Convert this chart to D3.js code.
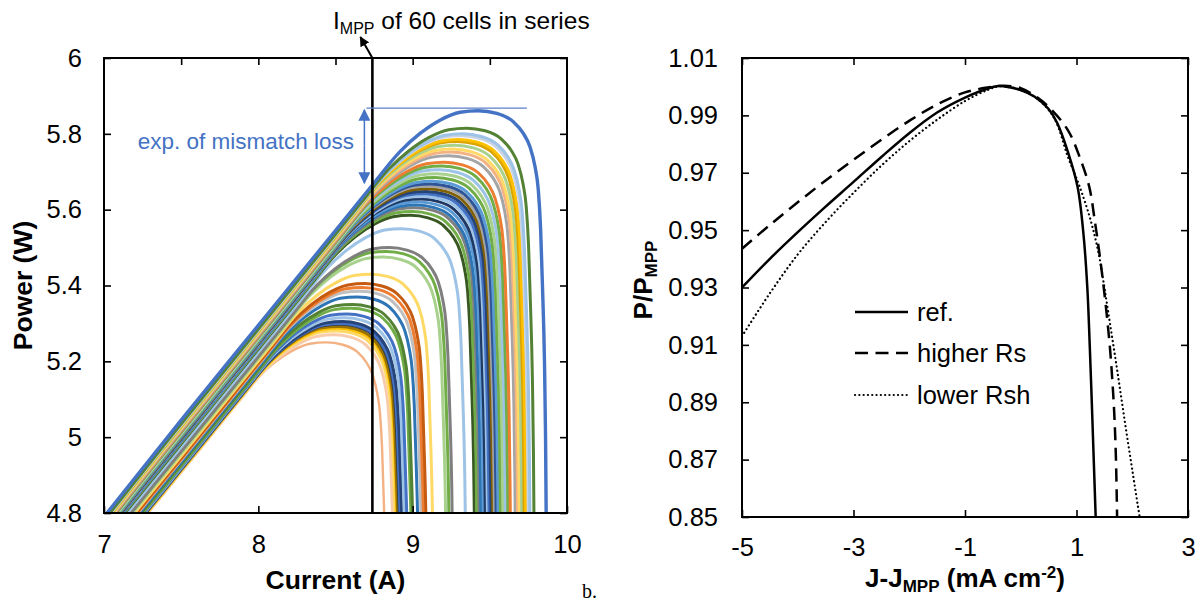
<!DOCTYPE html>
<html>
<head>
<meta charset="utf-8">
<script src="https://cdn.jsdelivr.net/npm/d3@7"></script>
<style>
  body { margin: 0; background: #fff; }
  text { font-family: "Liberation Sans", Arial, sans-serif; }
</style>
</head>
<body>
<svg id="chart" width="1197" height="606"></svg>
<script>
// ---------- left panel: P-I curves of single cells ----------
// shape of the top (highest) curve
var templateCurrent = [6.8, 7.0, 7.5, 8.0, 8.5, 8.739, 8.918, 9.048, 9.177, 9.307, 9.425, 9.545, 9.652, 9.717, 9.760, 9.793, 9.814, 9.829, 9.841, 9.854, 9.861, 9.865, 9.868];
var templatePower = [4.69, 4.79, 5.045, 5.295, 5.545, 5.665, 5.753, 5.801, 5.836, 5.857, 5.861, 5.854, 5.832, 5.801, 5.766, 5.713, 5.652, 5.55, 5.4, 5.2, 5.0, 4.8, 4.6];

// peak of every cell curve (current, power) and its colour
var cellPeakCurrent = [9.425, 9.350, 9.325, 9.315, 9.300, 9.290, 9.275, 9.260, 9.250, 9.235,
  9.205, 9.190, 9.175, 9.160, 9.145, 9.130, 9.118, 9.108, 9.098, 9.087,
  9.075, 9.065, 9.052, 9.040, 9.025, 9.015, 9.000, 8.985, 8.930, 8.850,
  8.830, 8.810, 8.730, 8.690, 8.675, 8.660, 8.640, 8.610, 8.600, 8.575,
  8.560, 8.545, 8.535, 8.530, 8.520, 8.515, 8.505, 8.490, 8.440];
var cellPeakPower = [5.861, 5.815, 5.800, 5.795, 5.785, 5.780, 5.770, 5.760, 5.752, 5.742,
  5.725, 5.715, 5.705, 5.695, 5.685, 5.675, 5.668, 5.662, 5.655, 5.648,
  5.642, 5.635, 5.628, 5.620, 5.612, 5.605, 5.595, 5.585, 5.550, 5.500,
  5.490, 5.475, 5.430, 5.405, 5.395, 5.385, 5.370, 5.350, 5.340, 5.325,
  5.315, 5.305, 5.300, 5.298, 5.292, 5.287, 5.280, 5.270, 5.250];
var cellColor = ["#4472C4", "#548235", "#9DC3E6", "#C9D3E3", "#FFC000", "#D9A400", "#A9D18E", "#FFD966", "#F4B183", "#A5A5A5",
  "#ED7D31", "#70AD47", "#9DC3E6", "#A9D18E", "#70AD47", "#5B9BD5", "#2F5597", "#A5A5A5", "#806000", "#264478",
  "#4472C4", "#9DC3E6", "#203864", "#5B9BD5", "#2E75B6", "#7F7F7F", "#70AD47", "#385723", "#9DC3E6", "#7F7F7F",
  "#70AD47", "#A9D18E", "#FFD966", "#C55A11", "#ED7D31", "#BFBFBF", "#2E75B6", "#548235", "#70AD47", "#4472C4",
  "#9DC3E6", "#264478", "#4472C4", "#3A3A3A", "#997300", "#FFC000", "#FFD966", "#F8CBAD", "#F4B183"];

var leftXTicks = [7, 8, 9, 10];
var leftTopTicks = [7.5, 8, 8.5, 9, 9.5];
var leftYTicks = [4.8, 5, 5.2, 5.4, 5.6, 5.8, 6];
var seriesMppCurrent = 8.739;
var mismatchTop = 5.868;
var mismatchBottom = 5.67;

// ---------- right panel: normalised power ----------
var refJ = [-5, -4.5, -4, -3.5, -3, -2.5, -2, -1.5, -1, -0.6, -0.4, -0.2, 0, 0.25, 0.5, 0.65, 0.85, 1.02, 1.125, 1.194, 1.24, 1.276, 1.31, 1.344, 1.36];
var refP = [0.930, 0.9400, 0.9493, 0.9582, 0.9668, 0.9755, 0.9838, 0.9910, 0.9962, 0.9993, 1.0002, 0.9998, 0.9988, 0.9965, 0.9922, 0.9875, 0.977, 0.965, 0.9486, 0.930, 0.9085, 0.889, 0.8695, 0.850, 0.840];
var rsJ = [-5, -4.5, -4, -3.5, -3, -2.5, -2, -1.5, -1, -0.6, -0.3, 0, 0.24, 0.51, 0.85, 1.06, 1.23, 1.33, 1.40, 1.47, 1.54, 1.60, 1.645, 1.68, 1.705, 1.722, 1.732];
var rsP = [0.9435, 0.9518, 0.9597, 0.9673, 0.9745, 0.9815, 0.9881, 0.9938, 0.998, 0.9997, 1.0003, 0.9995, 0.997, 0.9928, 0.9847, 0.9753, 0.965, 0.953, 0.9435, 0.933, 0.921, 0.909, 0.897, 0.885, 0.872, 0.857, 0.845];
var rshJ = [-5, -4.5, -4, -3.5, -3, -2.5, -2, -1.5, -1, -0.6, -0.4, -0.2, 0, 0.3, 0.6, 0.85, 1.06, 1.26, 1.40, 1.50, 1.60, 1.70, 1.80, 1.90, 2.00, 2.10, 2.15];
var rshP = [0.913, 0.928, 0.9415, 0.9528, 0.963, 0.9725, 0.981, 0.9885, 0.9950, 0.9988, 1.0001, 0.9998, 0.9988, 0.9958, 0.989, 0.9753, 0.965, 0.953, 0.9416, 0.930, 0.9175, 0.905, 0.892, 0.879, 0.8665, 0.854, 0.848];

var rightXTicks = [-5, -3, -1, 1, 3];
var rightYTicks = [0.85, 0.87, 0.89, 0.91, 0.93, 0.95, 0.97, 0.99, 1.01];
var legendNames = ["ref.", "higher Rs", "lower Rsh"];
var legendDash = [null, "13,7.5", "0.1,4.2"];

var svg = d3.select("#chart");

// ================= LEFT PANEL =================
var L = { left: 104, right: 567, top: 58, bottom: 513 };
var xL = d3.scaleLinear().domain([7, 10]).range([L.left, L.right]);
var yL = d3.scaleLinear().domain([4.8, 6]).range([L.bottom, L.top]);

svg.append("clipPath").attr("id", "clipL")
  .append("rect").attr("x", L.left).attr("y", L.top)
  .attr("width", L.right - L.left).attr("height", L.bottom - L.top);

var cellLine = d3.line()
  .x(function (d) { return xL(d[0]); })
  .y(function (d) { return yL(d[1]); })
  .curve(d3.curveMonotoneX);

var cells = cellPeakPower.map(function (p, k) {
  var sI = cellPeakCurrent[k] / templateCurrent[10];
  var sP = p / templatePower[10];
  return templateCurrent.map(function (c, j) {
    return [c * sI, templatePower[j] * sP];
  });
});

var gCells = svg.append("g").attr("clip-path", "url(#clipL)");
// draw lowest first so the top curve stays on top
d3.range(cells.length).reverse().forEach(function (k) {
  gCells.append("path")
    .attr("d", cellLine(cells[k]))
    .attr("fill", "none")
    .attr("stroke", cellColor[k])
    .attr("stroke-width", k === 0 ? 3.4 : (k === cells.length - 1 ? 2.4 : 3));
});

function innerAxis(g, axis) {
  g.call(axis);
  g.select(".domain").remove();
  g.selectAll(".tick line").attr("stroke", "#000").attr("stroke-width", 1.6);
  g.selectAll("text").attr("fill", "#000").style("font-size", "25.5px")
    .style("font-family", "'Liberation Sans', Arial, sans-serif");
  return g;
}

innerAxis(svg.append("g").attr("transform", "translate(0," + L.bottom + ")"),
  d3.axisBottom(xL).tickValues(leftXTicks).tickSize(-7).tickPadding(22).tickFormat(function (d) { return String(d); }));
innerAxis(svg.append("g").attr("transform", "translate(0," + L.top + ")"),
  d3.axisTop(xL).tickValues(leftTopTicks).tickSize(-7).tickFormat(""));
innerAxis(svg.append("g").attr("transform", "translate(" + L.left + ",0)"),
  d3.axisLeft(yL).tickValues(leftYTicks).tickSize(-7).tickPadding(22).tickFormat(function (d) { return String(+d.toFixed(1)); }));
innerAxis(svg.append("g").attr("transform", "translate(" + L.right + ",0)"),
  d3.axisRight(yL).tickValues(leftYTicks).tickSize(-7).tickFormat(""));

svg.append("rect").attr("x", L.left).attr("y", L.top)
  .attr("width", L.right - L.left).attr("height", L.bottom - L.top)
  .attr("fill", "none").attr("stroke", "#000").attr("stroke-width", 2);

// series MPP line and arrow
var defs = svg.append("defs");
defs.append("marker").attr("id", "blackHead").attr("viewBox", "0 0 10 10")
  .attr("refX", 9).attr("refY", 5).attr("markerWidth", 5).attr("markerHeight", 5)
  .attr("orient", "auto").attr("markerUnits", "strokeWidth")
  .append("path").attr("d", "M0,0 L10,5 L0,10 z").attr("fill", "#000");
defs.append("marker").attr("id", "blueHead").attr("viewBox", "0 0 10 10")
  .attr("refX", 9).attr("refY", 5).attr("markerWidth", 9).attr("markerHeight", 8)
  .attr("orient", "auto").attr("markerUnits", "strokeWidth")
  .append("path").attr("d", "M0,0 L10,5 L0,10 z").attr("fill", "#4472C4");

var xm = xL(seriesMppCurrent);
svg.append("line").attr("x1", xm).attr("x2", xm).attr("y1", L.bottom).attr("y2", L.top)
  .attr("stroke", "#000").attr("stroke-width", 2.6);
svg.append("line").attr("x1", xm).attr("y1", L.top).attr("x2", xm - 12).attr("y2", 37)
  .attr("stroke", "#000").attr("stroke-width", 2).attr("marker-end", "url(#blackHead)");

var t1 = svg.append("text").attr("x", 333).attr("y", 29).style("font-size", "24.5px").attr("fill", "#000");
t1.append("tspan").text("I");
t1.append("tspan").attr("dy", 5).style("font-size", "16px").text("MPP");
t1.append("tspan").attr("dy", -5).text(" of 60 cells in series");

// mismatch annotation
svg.append("line").attr("x1", xm - 6).attr("x2", xL(9.74))
  .attr("y1", yL(mismatchTop)).attr("y2", yL(mismatchTop))
  .attr("stroke", "#5B7FC7").attr("stroke-width", 1.3);
var ax = xm - 8;
var aMid = (yL(mismatchTop) + yL(mismatchBottom)) / 2;
svg.append("line").attr("x1", ax).attr("x2", ax).attr("y1", aMid).attr("y2", yL(mismatchTop) + 2)
  .attr("stroke", "#4472C4").attr("stroke-width", 1.5).attr("marker-end", "url(#blueHead)");
svg.append("line").attr("x1", ax).attr("x2", ax).attr("y1", aMid).attr("y2", yL(mismatchBottom))
  .attr("stroke", "#4472C4").attr("stroke-width", 1.5).attr("marker-end", "url(#blueHead)");
svg.append("text").attr("x", 354).attr("y", 149).attr("text-anchor", "end")
  .style("font-size", "22.5px").attr("fill", "#4472C4").text("exp. of mismatch loss");

// axis titles
svg.append("text").attr("x", (L.left + L.right) / 2).attr("y", 589).attr("text-anchor", "middle")
  .style("font-size", "26.5px").style("font-weight", "bold").text("Current (A)");
svg.append("text").attr("transform", "translate(32," + ((L.top + L.bottom) / 2) + ") rotate(-90)")
  .attr("text-anchor", "middle").style("font-size", "26.5px").style("font-weight", "bold").text("Power (W)");

svg.append("text").attr("x", 582).attr("y", 598)
  .style("font-family", "'Liberation Serif', 'Times New Roman', serif").style("font-size", "20px").text("b.");

// ================= RIGHT PANEL =================
var R = { left: 742, right: 1188, top: 58, bottom: 517 };
var xR = d3.scaleLinear().domain([-5, 3]).range([R.left, R.right]);
var yR = d3.scaleLinear().domain([0.85, 1.01]).range([R.bottom, R.top]);

svg.append("clipPath").attr("id", "clipR")
  .append("rect").attr("x", R.left).attr("y", R.top)
  .attr("width", R.right - R.left).attr("height", R.bottom - R.top);

var normLine = d3.line()
  .x(function (d) { return xR(d[0]); })
  .y(function (d) { return yR(d[1]); })
  .curve(d3.curveCatmullRom.alpha(0.5));

var normSeries = [
  d3.zip(refJ, refP),
  d3.zip(rsJ, rsP),
  d3.zip(rshJ, rshP)
];
var gNorm = svg.append("g").attr("clip-path", "url(#clipR)");
normSeries.forEach(function (s, i) {
  gNorm.append("path").attr("d", normLine(s))
    .attr("fill", "none").attr("stroke", "#000")
    .attr("stroke-width", i === 2 ? 2.2 : 2.5)
    .attr("stroke-linecap", i === 2 ? "round" : "butt")
    .attr("stroke-dasharray", legendDash[i]);
});

innerAxis(svg.append("g").attr("transform", "translate(0," + R.bottom + ")"),
  d3.axisBottom(xR).tickValues(rightXTicks).tickSize(-7).tickPadding(21).tickFormat(function (d) { return String(d); }));
innerAxis(svg.append("g").attr("transform", "translate(0," + R.top + ")"),
  d3.axisTop(xR).tickValues(rightXTicks).tickSize(-7).tickFormat(""));
innerAxis(svg.append("g").attr("transform", "translate(" + R.left + ",0)"),
  d3.axisLeft(yR).tickValues(rightYTicks).tickSize(-7).tickPadding(24).tickFormat(d3.format(".2f")));
innerAxis(svg.append("g").attr("transform", "translate(" + R.right + ",0)"),
  d3.axisRight(yR).tickValues(rightYTicks).tickSize(-7).tickFormat(""));

svg.append("rect").attr("x", R.left).attr("y", R.top)
  .attr("width", R.right - R.left).attr("height", R.bottom - R.top)
  .attr("fill", "none").attr("stroke", "#000").attr("stroke-width", 2);

// legend
var legY = [312, 353, 395];
legendNames.forEach(function (name, i) {
  svg.append("line").attr("x1", 855).attr("x2", 908).attr("y1", legY[i]).attr("y2", legY[i])
    .attr("stroke", "#000").attr("stroke-width", i === 2 ? 2.2 : 2.5)
    .attr("stroke-linecap", i === 2 ? "round" : "butt")
    .attr("stroke-dasharray", legendDash[i]);
  svg.append("text").attr("x", 917).attr("y", legY[i] + 9)
    .style("font-size", "25.5px").text(name);
});

// axis titles
var tx = svg.append("text").attr("x", (R.left + R.right) / 2).attr("y", 587).attr("text-anchor", "middle")
  .style("font-size", "26px").style("font-weight", "bold");
tx.append("tspan").text("J-J");
tx.append("tspan").attr("dy", 5).style("font-size", "17px").text("MPP");
tx.append("tspan").attr("dy", -5).text(" (mA cm");
tx.append("tspan").attr("dy", -9).style("font-size", "17px").text("-2");
tx.append("tspan").attr("dy", 9).text(")");

var ty = svg.append("text").attr("transform", "translate(652,280) rotate(-90)").attr("text-anchor", "middle")
  .style("font-size", "26px").style("font-weight", "bold");
ty.append("tspan").text("P/P");
ty.append("tspan").attr("dy", 5).style("font-size", "17px").text("MPP");
</script>
</body>
</html>
